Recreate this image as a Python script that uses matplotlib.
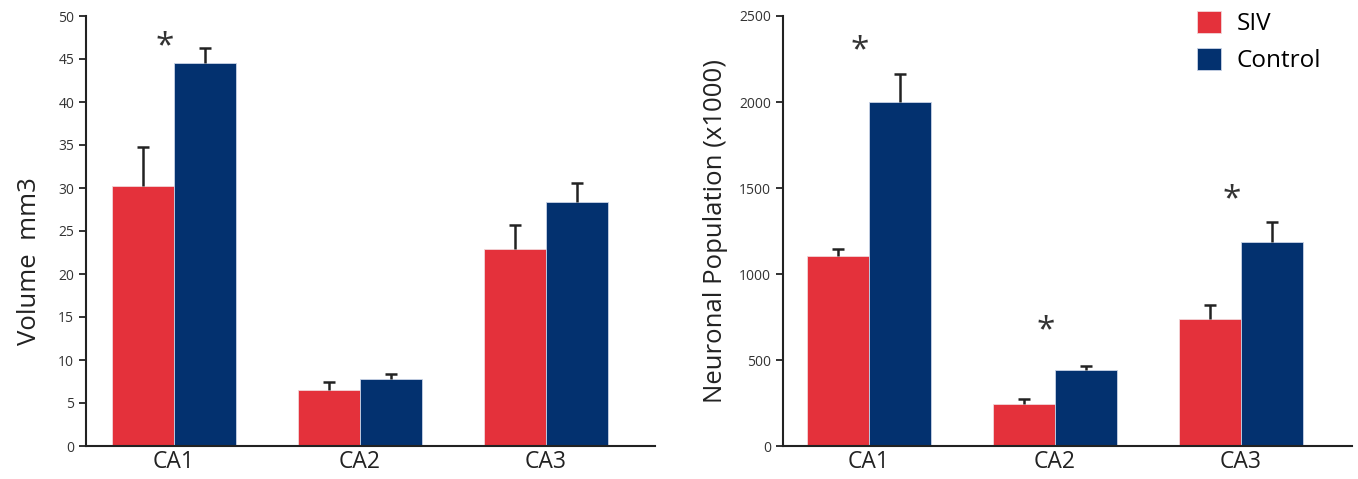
import numpy as np
import matplotlib
matplotlib.use("Agg")
from matplotlib import pyplot as plt

plt.rcParams['font.family'] = ['Open Sans', 'DejaVu Sans']

regions = ["CA1", "CA2", "CA3"]

# volume (mm3), mean and upper error
siv_vol = [30.2, 6.5, 22.9]
siv_vol_err = [4.6, 0.9, 2.8]
ctrl_vol = [44.5, 7.8, 28.4]
ctrl_vol_err = [1.8, 0.6, 2.2]

# neuronal population (x1000)
siv_pop = [1105, 244, 738]
siv_pop_err = [40, 29, 82]
ctrl_pop = [2000, 442, 1186]
ctrl_pop_err = [163, 23, 116]

# significance stars: (region index, y)
vol_stars = [(0, 46.4)]
pop_stars = [(0, 2300), (1, 670), (2, 1430)]

red = "#E4313B"
blue = "#03316F"

fig = plt.figure(figsize=(13.58, 4.79), dpi=100)
ax1 = fig.add_axes([86/1358, 33/479, 569/1358, 430/479])
ax2 = fig.add_axes([783/1358, 33/479, 569/1358, 430/479])

w = 0.333
x = np.arange(len(regions))


def upper_err(ax, xs, tops, errs):
    tops = np.asarray(tops, float)
    ends = tops + np.asarray(errs, float)
    ax.vlines(xs, tops, ends, color="#222222", lw=1.8, zorder=3)
    ax.plot(xs, ends, ls="none", marker="_", ms=8, mew=1.8,
            color="#222222", zorder=3)


def draw(ax, siv, siv_err, ctrl, ctrl_err, ymax, step, stars, ylabel, xlim):
    ax.bar(x - w/2, siv, w, color=red, edgecolor="#f2d6d8", linewidth=0.6,
           label="SIV", zorder=2)
    ax.bar(x + w/2, ctrl, w, color=blue, edgecolor="#c9d3e6", linewidth=0.6,
           label="Control", zorder=2)
    upper_err(ax, x - w/2, siv, siv_err)
    upper_err(ax, x + w/2, ctrl, ctrl_err)
    ax.set_xlim(*xlim)
    ax.set_ylim(0, ymax)
    ax.set_yticks(np.arange(0, ymax + 1, step))
    ax.set_xticks(x)
    ax.set_xticklabels(regions, fontsize=16.5, color="#222222")
    ax.tick_params(axis="x", length=0, pad=3)
    ax.tick_params(axis="y", direction="out", length=5, width=1.3,
                   labelsize=10, labelcolor="#333333", color="#222222")
    for s in ["top", "right"]:
        ax.spines[s].set_visible(False)
    for s in ["left", "bottom"]:
        ax.spines[s].set_linewidth(1.5)
        ax.spines[s].set_color("#222222")
    ax.set_ylabel(ylabel, fontsize=18.5, color="#222222", labelpad=8)
    for i, yv in stars:
        ax.text(i - 0.05, yv, "*", fontsize=24, ha="center", va="center",
                color="#333333")


draw(ax1, siv_vol, siv_vol_err, ctrl_vol, ctrl_vol_err, 50, 5, vol_stars,
     "Volume  mm3", (-0.473, 2.586))
draw(ax2, siv_pop, siv_pop_err, ctrl_pop, ctrl_pop_err, 2500, 500, pop_stars,
     "Neuronal Population (x1000)", (-0.462, 2.597))
ax1.yaxis.set_label_coords(-0.077, 0.43)

ax2.legend(loc="upper left", bbox_to_anchor=(0.727, 1.012), frameon=False,
           fontsize=17.5, handlelength=1.0, handleheight=1.0, handletextpad=0.65,
           labelspacing=0.5, borderaxespad=0, borderpad=0)

fig.savefig("out.png", dpi=100)
